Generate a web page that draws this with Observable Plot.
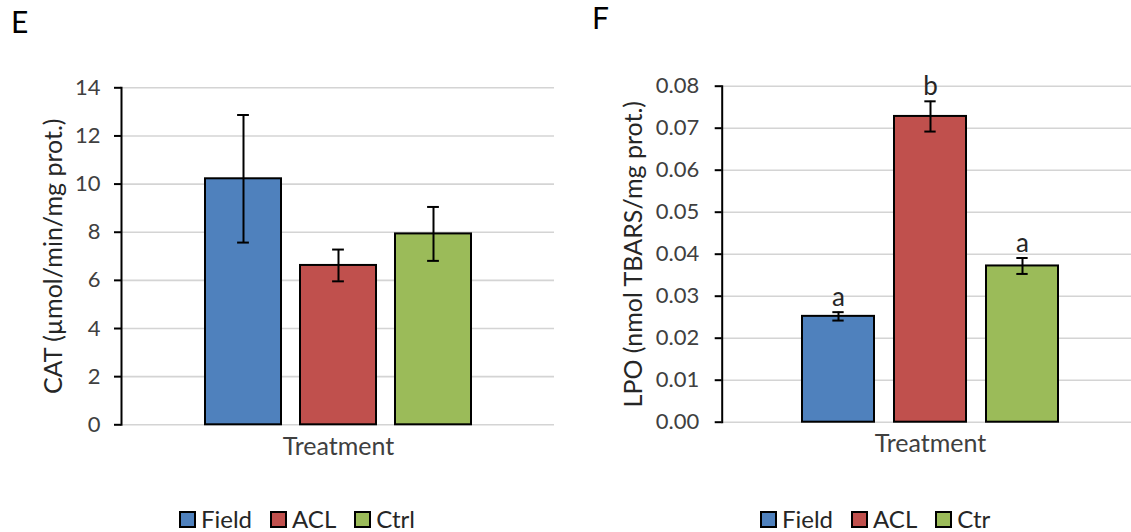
<!DOCTYPE html>
<html>
<head>
<meta charset="utf-8">
<script src="https://cdn.jsdelivr.net/npm/d3@7"></script>
<script src="https://cdn.jsdelivr.net/npm/@observablehq/plot@0.6"></script>
<style>
  html, body { margin: 0; padding: 0; width: 1131px; height: 532px; overflow: hidden; background: #fff; }
  body { position: relative; font-family: Lato, "Open Sans", sans-serif; }
  .panel { position: absolute; top: 0; }
  .panel svg { overflow: visible; }
  .letter { position: absolute; font-size: 30px; color: #000; line-height: 1; }
  .legend { position: absolute; top: 507px; display: flex; align-items: center; font-size: 24px; line-height: 1; color: #262626; white-space: nowrap; }
  .legend .item { display: flex; align-items: center; }
  .legend .sw { width: 13px; height: 13px; border: 2px solid #000; margin-right: 5px; }
</style>
</head>
<body>
<div class="letter" style="left:11px; top:6px;">E</div>
<div class="letter" style="left:592px; top:2px;">F</div>
<div id="panelE" class="panel" style="left:0px;"></div>
<div id="panelF" class="panel" style="left:565px;"></div>
<div id="legendE" class="legend" style="left:179px;"></div>
<div id="legendF" class="legend" style="left:760px;"></div>
<script>
// ---- data ----
const catGroups = ["Field", "ACL", "Ctrl"];
const catMeans = [10.22, 6.62, 7.93];
const catErrors = [2.65, 0.66, 1.12];
const catTicks = [0, 2, 4, 6, 8, 10, 12, 14];
const catLabel = "CAT (µmol/min/mg prot.)";

const lpoGroups = ["Field", "ACL", "Ctr"];
const lpoMeans = [0.0252, 0.0728, 0.0372];
const lpoErrors = [0.0010, 0.0036, 0.0019];
const lpoLetters = ["a", "b", "a"];
const lpoTicks = [0, 0.01, 0.02, 0.03, 0.04, 0.05, 0.06, 0.07, 0.08];
const lpoLabel = "LPO (nmol TBARS/mg prot.)";

const xTitle = "Treatment";
const colors = ["#4F81BD", "#C0504D", "#9BBB59"];

function panel({groups, means, errors, letters, ticks, yLabel, fmt, width, height, mt, mb, ml, mr, xRange, padInner, labelDx, tickPad, labelSize}) {
  const data = groups.map((g, i) => ({g, v: means[i], e: errors[i], lo: means[i] - errors[i], hi: means[i] + errors[i], l: letters ? letters[i] : ""}));
  const bw = d3.scaleBand().domain(groups).range(xRange).paddingInner(padInner).paddingOuter(0).bandwidth();
  const capInset = (bw - 12) / 2;
  const marks = [
    Plot.gridY(ticks, {stroke: "#d4d4d4", strokeOpacity: 1, strokeWidth: 1.6}),
    Plot.barY(data, {x: "g", y: "v", fill: "g", stroke: "#000", strokeWidth: 2}),
    Plot.ruleX(data, {x: "g", y1: "lo", y2: "hi", stroke: "#000", strokeWidth: 2}),
    Plot.tickY(data, {x: "g", y: "lo", stroke: "#000", strokeWidth: 2, insetLeft: capInset, insetRight: capInset}),
    Plot.tickY(data, {x: "g", y: "hi", stroke: "#000", strokeWidth: 2, insetLeft: capInset, insetRight: capInset}),
    Plot.frame({anchor: "left", stroke: "#000", strokeWidth: 2}),
    Plot.axisY({ticks, tickSize: 7, tickPadding: tickPad, tickFormat: fmt, fontSize: 22, stroke: "#000", strokeWidth: 2, fill: "#404040", label: null}),
    Plot.text([yLabel], {frameAnchor: "left", text: d => d, rotate: -90, textAnchor: "middle", lineAnchor: "middle", dx: labelDx, fontSize: labelSize, fill: "#262626"}),
    Plot.text([xTitle], {x: () => groups[1], frameAnchor: "bottom", text: d => d, lineAnchor: "middle", dy: 22, fontSize: 25, fill: "#404040"})
  ];
  if (letters) {
    marks.push(Plot.text(data, {x: "g", y: "hi", text: "l", dy: -6, lineAnchor: "bottom", fontSize: 26, fill: "#262626"}));
  }
  return Plot.plot({
    width, height,
    marginTop: mt, marginBottom: mb, marginLeft: ml, marginRight: mr,
    style: {fontFamily: "Lato, 'Open Sans', sans-serif", background: "transparent", overflow: "visible"},
    x: {type: "band", domain: groups, range: xRange, paddingInner: padInner, paddingOuter: 0, axis: null},
    y: {domain: [ticks[0], ticks[ticks.length - 1]], axis: null},
    color: {domain: groups, range: colors},
    marks
  });
}

document.getElementById("panelE").append(panel({
  groups: catGroups, means: catMeans, errors: catErrors, letters: null, ticks: catTicks,
  yLabel: catLabel, fmt: d3.format("d"),
  width: 565, height: 470, mt: 87.3, mb: 470 - 424.3, ml: 121, mr: 11,
  xRange: [204, 471.7], padInner: 0.204, labelDx: -68, tickPad: 14, labelSize: 25
}));

document.getElementById("panelF").append(panel({
  groups: lpoGroups, means: lpoMeans, errors: lpoErrors, letters: lpoLetters, ticks: lpoTicks,
  yLabel: lpoLabel, fmt: d3.format(".2f"),
  width: 566, height: 470, mt: 85.7, mb: 470 - 421.7, ml: 156.7, mr: 0,
  xRange: [236, 494.3], padInner: 0.217, labelDx: -88.7, tickPad: 16, labelSize: 25
}));

function legend(id, groups) {
  const el = document.getElementById(id);
  groups.forEach((g, i) => {
    const item = document.createElement("div");
    item.className = "item";
    item.style.marginRight = i < groups.length - 1 ? "18px" : "0";
    const sw = document.createElement("div");
    sw.className = "sw";
    sw.style.background = colors[i];
    const t = document.createElement("span");
    t.textContent = g;
    item.append(sw, t);
    el.append(item);
  });
}
legend("legendE", catGroups);
legend("legendF", lpoGroups);
</script>
</body>
</html>
